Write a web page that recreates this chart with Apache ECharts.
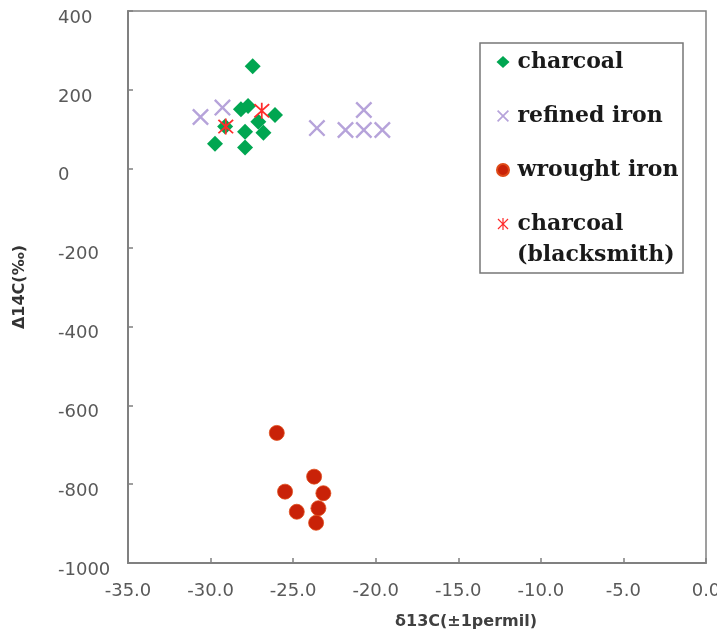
<!DOCTYPE html>
<html><head><meta charset="utf-8">
<script src="https://cdn.jsdelivr.net/npm/echarts@6/dist/echarts.min.js"></script>
<style>html,body{margin:0;padding:0;background:#fff}#c{width:717px;height:638px}</style>
</head><body><div id="c"></div>
<script>
// δ13C (x) and Δ14C (y) values
const charcoalX = [-27.45, -28.16, -27.73, -26.10, -27.11, -27.91, -26.80, -29.73, -27.91, -29.12];
const charcoalY = [260, 151, 159, 136, 119, 94, 91, 63, 54, 107];
const refinedX = [-30.61, -29.28, -23.56, -21.83, -20.72, -20.72, -19.60];
const refinedY = [131, 155, 103, 98, 149, 98, 98];
const wroughtX = [-25.99, -23.73, -25.49, -23.17, -24.78, -23.47, -23.61];
const wroughtY = [-670, -781, -819, -823, -870, -861, -898];
const blacksmithX = [-29.08, -26.90];
const blacksmithY = [107, 147];
const seriesNames = ['charcoal', 'refined iron', 'wrought iron', 'charcoal (blacksmith)'];
const legendLines = {'charcoal (blacksmith)': ['charcoal', '(blacksmith)']};
const xTicks = {min: -35, max: 0, step: 5};
const yTicks = {min: -1000, max: 400, step: 200};

const pairs = (xs, ys) => xs.map((x, i) => [x, ys[i]]);
const xPath = 'path://M0,1L1,0L5,4L9,0L10,1L6,5L10,9L9,10L5,6L1,10L0,9L4,5Z';
const starPath = 'path://M0,0.8L0.8,0L5,4.2L9.2,0L10,0.8L5.8,5L10,9.2L9.2,10L5,5.8L0.8,10L0,9.2L4.2,5Z M4.45,-0.5L5.55,-0.5L5.55,10.5L4.45,10.5Z';
const gray = '#808080';
const labelFont = 'DejaVu Sans';
const legendFont = {fontFamily: 'DejaVu Serif', fontWeight: 'bold', fontSize: 22, color: '#1a1a1a'};

const chart = echarts.init(document.getElementById('c'), null, {renderer: 'canvas'});
chart.setOption({
  animation: false,
  backgroundColor: '#fff',
  grid: {left: 128, top: 11, right: 11, bottom: 75, show: true, borderColor: gray, borderWidth: 1.5,
    containLabel: false, outerBoundsMode: 'none'},
  xAxis: {
    type: 'value', min: xTicks.min, max: xTicks.max, interval: xTicks.step,
    splitLine: {show: false},
    axisLine: {show: true, onZero: false, lineStyle: {color: gray, width: 2}},
    axisTick: {show: true, inside: true, length: 5, lineStyle: {color: gray, width: 1.5}},
    axisLabel: {margin: 19, color: '#595959', fontFamily: labelFont, fontSize: 18, formatter: v => v.toFixed(1)},
    name: 'δ13C(±1permil)', nameLocation: 'middle', nameGap: 51,
    nameTextStyle: {fontFamily: labelFont, fontWeight: 'bold', fontSize: 16, color: '#404040', padding: [0, 0, 0, 98]}
  },
  yAxis: {
    type: 'value', min: yTicks.min, max: yTicks.max, interval: yTicks.step,
    splitLine: {show: false},
    axisLine: {show: true, onZero: false, lineStyle: {color: gray, width: 2}},
    axisTick: {show: true, inside: true, length: 5, lineStyle: {color: gray, width: 1.5}},
    axisLabel: {margin: 70, align: 'left', verticalAlign: 'top', lineHeight: 14, color: '#595959',
      fontFamily: labelFont, fontSize: 18, formatter: v => String(v)},
    name: 'Δ14C(‰)', nameLocation: 'middle', nameGap: 100, nameRotate: 90,
    nameTextStyle: {fontFamily: labelFont, fontWeight: 'bold', fontSize: 16, color: '#333'}
  },
  legend: {
    orient: 'vertical', left: 496, top: 47, padding: 0, itemGap: 24,
    itemWidth: 13, itemHeight: 12,
    textStyle: Object.assign({lineHeight: 30, padding: [0, 0, 0, 3]}, legendFont),
    data: seriesNames,
    formatter: n => legendLines[n] ? legendLines[n][0] : n
  },
  graphic: [
    {type: 'rect', shape: {x: 480, y: 43, width: 203, height: 230},
     style: {fill: 'none', stroke: '#777', lineWidth: 1.5}, z: 1},
    {type: 'text', left: 517, top: 244, z: 5,
     style: {text: legendLines[seriesNames[3]][1], font: 'bold 22px "DejaVu Serif"', fill: legendFont.color}}
  ],
  series: [
    {name: seriesNames[0], type: 'scatter', symbol: 'diamond', symbolSize: 16,
     itemStyle: {color: '#00a651', opacity: 1}, data: pairs(charcoalX, charcoalY), z: 3},
    {name: seriesNames[1], type: 'scatter', symbol: xPath, symbolSize: 17,
     itemStyle: {color: '#b6a3da', opacity: 1}, data: pairs(refinedX, refinedY), z: 2},
    {name: seriesNames[2], type: 'scatter', symbol: 'circle', symbolSize: 15,
     itemStyle: {color: '#c92208', borderColor: '#de4a18', borderWidth: 0.8, opacity: 1}, data: pairs(wroughtX, wroughtY), z: 3},
    {name: seriesNames[3], type: 'scatter', symbol: starPath, symbolSize: 16,
     itemStyle: {color: '#ff2b2b', opacity: 1}, data: pairs(blacksmithX, blacksmithY), z: 4}
  ]
});
</script>
</body></html>
